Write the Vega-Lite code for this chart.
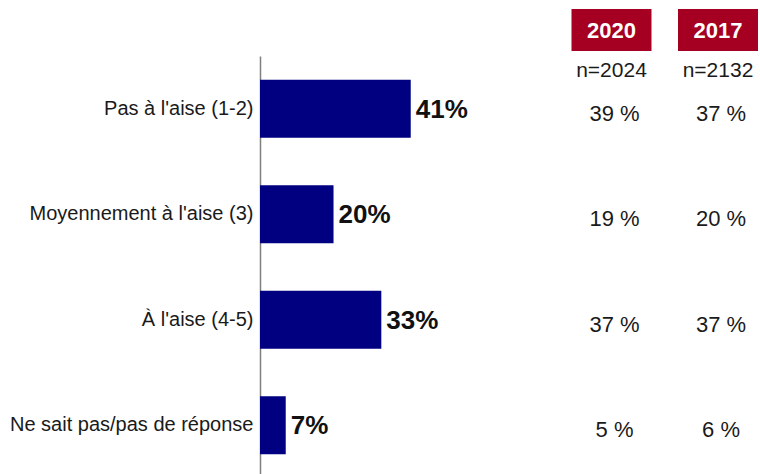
{
  "$schema": "https://vega.github.io/schema/vega-lite/v6.json",
  "width": 500,
  "height": 474,
  "autosize": "none",
  "padding": {"left": 260, "top": 0, "right": 0, "bottom": 0},
  "background": "white",
  "config": {"view": {"stroke": null}, "font": "Liberation Sans"},
  "datasets": {
    "bars": [
      {"cat": "Pas à l'aise (1-2)", "pct": 41},
      {"cat": "Moyennement à l'aise (3)", "pct": 20},
      {"cat": "À l'aise (4-5)", "pct": 33},
      {"cat": "Ne sait pas/pas de réponse", "pct": 7}
    ],
    "cols": [
      {"cat": "Pas à l'aise (1-2)", "year": "2020", "v": 39},
      {"cat": "Pas à l'aise (1-2)", "year": "2017", "v": 37},
      {"cat": "Moyennement à l'aise (3)", "year": "2020", "v": 19},
      {"cat": "Moyennement à l'aise (3)", "year": "2017", "v": 20},
      {"cat": "À l'aise (4-5)", "year": "2020", "v": 37},
      {"cat": "À l'aise (4-5)", "year": "2017", "v": 37},
      {"cat": "Ne sait pas/pas de réponse", "year": "2020", "v": 5},
      {"cat": "Ne sait pas/pas de réponse", "year": "2017", "v": 6}
    ],
    "hdr": [
      {"year": "2020", "n": "n=2024"},
      {"year": "2017", "n": "n=2132"}
    ]
  },
  "resolve": {"scale": {"x": "independent", "y": "independent"}},
  "layer": [
    {
      "data": {"name": "bars"},
      "encoding": {
        "y": {
          "field": "cat", "type": "nominal", "sort": null,
          "scale": {"domain": ["Pas à l'aise (1-2)", "Moyennement à l'aise (3)", "À l'aise (4-5)", "Ne sait pas/pas de réponse"], "range": [56, 478], "paddingInner": 0.45, "paddingOuter": 0.225},
          "axis": {"title": null, "ticks": false, "domainColor": "#7f7f7f", "domainWidth": 1.5, "labelFontSize": 20, "labelColor": "#1a1a1a", "labelPadding": 7, "labelLimit": 300}
        },
        "x": {"field": "pct", "type": "quantitative", "scale": {"domain": [0, 136], "nice": false, "zero": true}, "axis": null}
      },
      "layer": [
        {"mark": {"type": "bar", "color": "#000080"}},
        {"mark": {"type": "text", "align": "left", "baseline": "middle", "dx": 5, "dy": 1, "fontSize": 26, "fontWeight": "bold", "color": "#111111", "text": {"expr": "datum.pct + '%'"}}}
      ]
    },
    {
      "data": {"name": "cols"},
      "mark": {"type": "text", "baseline": "middle", "fontSize": 22, "color": "#1a1a1a", "dx": 3, "dy": 5, "text": {"expr": "datum.v + ' %'"}},
      "encoding": {
        "y": {
          "field": "cat", "type": "nominal", "sort": null,
          "scale": {"domain": ["Pas à l'aise (1-2)", "Moyennement à l'aise (3)", "À l'aise (4-5)", "Ne sait pas/pas de réponse"], "range": [56, 478], "paddingInner": 0.45, "paddingOuter": 0.225},
          "axis": null
        },
        "x": {"field": "year", "type": "nominal", "sort": null, "scale": {"type": "band", "domain": ["2020", "2017"], "range": [311.5, 498], "paddingInner": 0.249, "paddingOuter": 0}, "axis": null}
      }
    },
    {
      "data": {"name": "hdr"},
      "encoding": {
        "x": {"field": "year", "type": "nominal", "sort": null, "scale": {"type": "band", "domain": ["2020", "2017"], "range": [311.5, 498], "paddingInner": 0.249, "paddingOuter": 0}, "axis": null}
      },
      "layer": [
        {
          "mark": {"type": "bar", "color": "#a50021"},
          "encoding": {"y": {"datum": "box", "type": "nominal", "scale": {"type": "band", "domain": ["box", "n"], "range": [9, 93], "paddingInner": 0, "paddingOuter": 0}, "axis": null}}
        },
        {
          "mark": {"type": "text", "baseline": "middle", "fontSize": 22, "fontWeight": "bold", "color": "white", "dy": 1},
          "encoding": {
            "y": {"datum": "box", "type": "nominal"},
            "text": {"field": "year"}
          }
        },
        {
          "mark": {"type": "text", "baseline": "middle", "fontSize": 21, "color": "#1a1a1a", "dy": -1},
          "encoding": {
            "y": {"datum": "n", "type": "nominal"},
            "text": {"field": "n"}
          }
        }
      ]
    }
  ]
}
